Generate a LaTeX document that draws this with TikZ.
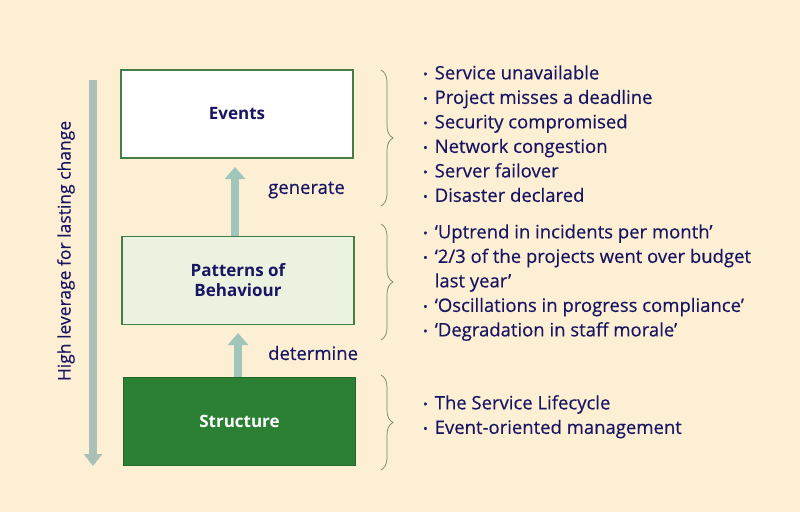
\documentclass[tikz,border=0pt]{standalone}
\usepackage{fontspec}
\setmainfont{Open Sans}
\newfontfamily\medfont[FakeBold=0.35]{Open Sans}
\usetikzlibrary{decorations.pathreplacing,arrows.meta}
\definecolor{bgc}{RGB}{252,239,212}
\definecolor{navy}{RGB}{24,22,98}
\definecolor{boxline}{RGB}{70,125,70}
\definecolor{palefill}{RGB}{236,242,224}
\definecolor{darkgreen}{RGB}{44,128,52}
\definecolor{arrowc}{RGB}{160,198,188}
\definecolor{levc}{RGB}{170,192,182}
\definecolor{bracec}{RGB}{120,130,100}
\tikzset{
  layer/.style={draw=boxline, line width=1.2pt, minimum width=232pt, minimum height=88pt, inner sep=0pt, font=\fontsize{17}{20}\selectfont\bfseries, text=navy, align=center},
  fatarrow/.style={-{Triangle[width=20pt,length=12pt]}, line width=8pt, draw=arrowc},
  lbl/.style={font=\fontsize{18.5}{20}\selectfont\medfont, text=navy, anchor=west, inner sep=0pt},
  listing/.style={font=\fontsize{18.5}{24.5}\selectfont\medfont, text=navy, anchor=north west, inner sep=0pt, align=left},
  bracedeco/.style={draw=bracec, line width=0.7pt, decorate, decoration={brace, amplitude=12pt, aspect=0.5}}
}
\newcommand{\bul}{{\fontsize{12}{12}\selectfont\raisebox{1pt}{•}}}
\begin{document}
\begin{tikzpicture}[x=1pt,y=-1pt]
\path[fill=bgc] (0,0) rectangle (800,512);
\useasboundingbox (0,0) rectangle (800,512);
% boxes
\node[layer, fill=white] (events) at (237,114) {Events};
\node[layer, fill=palefill] (patterns) at (238,280.5) {Patterns of\\Behaviour};
\node[layer, fill=darkgreen, text=white, draw=darkgreen!80!black] (structure) at (239.5,421.5) {Structure};
% arrows
\coordinate (g1) at (235,237);
\coordinate (g2) at (235,167);
\draw[fatarrow] (patterns.north -| g1) -- (g2);
\coordinate (d2) at (238,333);
\draw[fatarrow] (structure.north -| d2) -- (d2);
\node[lbl] (generate) at (268,190) {generate};
\node[lbl] (determine) at (268,353) {determine};
% leverage arrow
\coordinate (l1) at (93,80);
\coordinate (l2) at (93,466);
\draw[levc, line width=8pt, -{Triangle[width=18pt,length=12pt]}] (l1) -- (l2);
\node[font=\fontsize{17.5}{20}\selectfont\medfont, text=navy, rotate=90] (lev) at (66,251) {High leverage for lasting change};
% braces
\coordinate (b1a) at (381,70);
\coordinate (b1b) at (381,206);
\draw[bracedeco] (b1a) -- (b1b);
\coordinate (b2a) at (381,224);
\coordinate (b2b) at (381,340);
\draw[bracedeco] (b2a) -- (b2b);
\coordinate (b3a) at (381,375);
\coordinate (b3b) at (381,470);
\draw[bracedeco] (b3a) -- (b3b);
% lists
\node[listing] (list1) at (423,62) {%
\begin{tabular}{@{}l@{\hspace{7pt}}l@{}}
\bul & Service unavailable\\
\bul & Project misses a deadline\\
\bul & Security compromised\\
\bul & Network congestion\\
\bul & Server failover\\
\bul & Disaster declared
\end{tabular}};
\node[listing] (list2) at (423,221) {%
\begin{tabular}{@{}l@{\hspace{7pt}}l@{}}
\bul & ‘Uptrend in incidents per month’\\
\bul & ‘2/3 of the projects went over budget\\
 & last year’\\
\bul & ‘Oscillations in progress compliance’\\
\bul & ‘Degradation in staff morale’
\end{tabular}};
\node[listing] (list3) at (423,392) {%
\begin{tabular}{@{}l@{\hspace{7pt}}l@{}}
\bul & The Service Lifecycle\\
\bul & Event-oriented management
\end{tabular}};
\end{tikzpicture}
\end{document}
